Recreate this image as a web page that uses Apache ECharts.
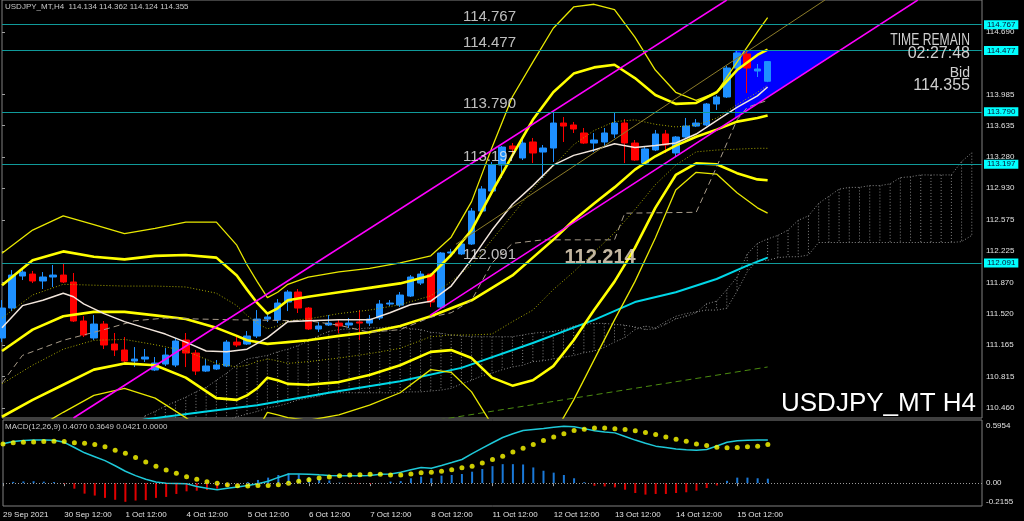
<!DOCTYPE html>
<html><head><meta charset="utf-8">
<script src="https://cdn.jsdelivr.net/npm/echarts@6/dist/echarts.min.js"></script>
<style>html,body{margin:0;padding:0;background:#000;}#c{width:1024px;height:521px;}</style>
</head><body><div id="c"></div>
<script>
// ---------------- DATA ----------------
const symbolName = 'USDJPY_MT,H4';
const tickLabels = ['29 Sep 2021','30 Sep 12:00','1 Oct 12:00','4 Oct 12:00','5 Oct 12:00','6 Oct 12:00','7 Oct 12:00','8 Oct 12:00','11 Oct 12:00','12 Oct 12:00','13 Oct 12:00','14 Oct 12:00','15 Oct 12:00'];
const barsPerTick = 6;
const totalSlots = 97;
// [open, high, low, close]
const candles = [
[111.246,111.673,111.200,111.583],[111.583,112.010,111.549,111.954],[111.943,112.033,111.898,111.988],[111.965,112.000,111.864,111.887],
[111.887,111.988,111.797,111.932],[111.932,112.067,111.819,111.954],[111.954,112.089,111.864,111.876],[111.876,111.977,111.426,111.437],
[111.437,111.493,111.257,111.279],[111.246,111.504,111.223,111.403],[111.403,111.437,111.122,111.167],[111.178,111.302,111.043,111.111],
[111.111,111.257,110.976,110.987],[110.987,111.144,110.919,111.009],[111.009,111.122,110.976,111.032],[110.886,111.032,110.874,110.964],
[110.953,111.133,110.931,111.054],[110.942,111.246,110.919,111.212],[111.223,111.302,110.919,111.077],[111.077,111.111,110.829,110.874],
[110.874,111.009,110.863,110.931],[110.897,110.998,110.886,110.942],[110.931,111.223,110.919,111.200],[111.200,111.257,111.144,111.167],
[111.178,111.324,111.167,111.268],[111.268,111.560,111.246,111.459],[111.459,111.538,111.426,111.482],[111.448,111.684,111.414,111.639],
[111.651,111.785,111.549,111.763],[111.763,111.797,111.527,111.583],[111.583,111.594,111.336,111.347],[111.347,111.426,111.313,111.381],
[111.392,111.504,111.381,111.414],[111.414,111.448,111.302,111.381],[111.392,111.471,111.358,111.414],[111.426,111.560,111.223,111.414],
[111.414,111.504,111.381,111.459],[111.471,111.673,111.448,111.628],[111.628,111.673,111.606,111.639],[111.616,111.763,111.594,111.729],
[111.718,111.954,111.707,111.932],[111.864,111.999,111.842,111.965],[111.965,111.977,111.594,111.651],[111.594,112.213,111.583,112.202],
[112.202,112.248,112.191,112.213],[112.191,112.348,112.179,112.303],[112.303,112.708,112.292,112.674],[112.674,112.955,112.663,112.922],
[112.899,113.226,112.854,113.192],[113.192,113.406,113.046,113.394],[113.406,113.439,113.327,113.372],[113.271,113.484,113.248,113.439],
[113.451,113.496,113.214,113.327],[113.338,113.417,113.046,113.383],[113.383,113.777,113.226,113.664],[113.664,113.732,113.451,113.630],
[113.642,113.676,113.552,113.597],[113.552,113.608,113.428,113.439],[113.439,113.552,113.338,113.473],[113.451,113.608,113.394,113.552],
[113.541,113.788,113.496,113.664],[113.664,113.709,113.214,113.439],[113.439,113.473,113.237,113.248],[113.214,113.394,113.203,113.372],
[113.361,113.586,113.349,113.541],[113.541,113.586,113.327,113.417],[113.327,113.518,113.282,113.507],[113.507,113.721,113.496,113.630],
[113.630,113.709,113.619,113.664],[113.642,113.889,113.630,113.878],[113.878,113.979,113.811,113.957],[113.957,114.306,113.946,114.283],
[114.283,114.474,114.272,114.452],[114.441,114.477,114.002,114.283],[114.249,114.328,114.182,114.272],[114.134,114.362,114.124,114.355]
];
const priceTicks = [114.690,113.985,113.635,113.280,112.930,112.575,112.225,111.870,111.520,111.165,110.815,110.460];
const priceMin = 110.346, priceMax = 115.048;
const levels = [114.767,114.477,113.790,113.197,112.091];
const bid = 114.355;
const noteText = '112.214';
const notePoint = [55.15, 112.03];
const levelLabelBar = 45.2;

// Bollinger bands (20): middle, +-1, +-2, +-3 sigma  [bar, price]
const bbBars = [0,3,6,9,12,15,18,21,23,24,25,26,27,28,30,33,36,39,42,44,46,48,50,52,54,56,58,60,62,64,66,68,70,72,74,75];
const bbMid = [111.10,111.34,111.49,111.54,111.54,111.50,111.46,111.36,111.27,111.22,111.20,111.18,111.19,111.20,111.22,111.27,111.31,111.38,111.49,111.58,111.67,111.81,111.95,112.15,112.35,112.57,112.76,112.94,113.14,113.29,113.41,113.51,113.59,113.68,113.72,113.75];
const bbUp1 = [111.47,111.73,111.85,111.84,111.83,111.83,111.82,111.75,111.61,111.50,111.41,111.35,111.38,111.44,111.46,111.52,111.56,111.62,111.72,111.88,112.07,112.35,112.63,112.92,113.18,113.42,113.58,113.68,113.70,113.65,113.62,113.64,113.72,113.87,114.01,114.09];
const bbUp2 = [111.84,112.12,112.22,112.16,112.13,112.17,112.18,112.15,111.95,111.79,111.64,111.52,111.58,111.67,111.71,111.76,111.81,111.86,111.95,112.18,112.46,112.89,113.30,113.70,114.01,114.22,114.29,114.32,114.17,113.98,113.88,113.89,114.01,114.26,114.43,114.49];
const bbUp3 = [112.20,112.46,112.62,112.52,112.42,112.48,112.55,112.55,112.29,112.07,111.88,111.70,111.76,111.85,111.93,111.99,112.03,112.09,112.17,112.38,112.78,113.39,113.96,114.35,114.73,114.97,115.00,114.94,114.63,114.26,114.01,113.92,114.01,114.35,114.69,114.85];
const bbDn1 = [110.73,110.94,111.12,111.22,111.23,111.17,111.10,110.96,110.92,110.94,110.98,111.01,110.99,110.96,110.98,111.02,111.07,111.13,111.26,111.28,111.28,111.29,111.43,111.56,111.79,111.99,112.21,112.43,112.69,112.97,113.19,113.34,113.36,113.37,113.38,113.38];
const bbDn2 = [110.36,110.55,110.72,110.89,110.96,110.94,110.80,110.57,110.55,110.60,110.68,110.80,110.77,110.73,110.72,110.75,110.83,110.94,111.09,111.11,111.02,110.80,110.71,110.77,110.93,111.22,111.56,111.88,112.26,112.71,113.08,113.21,113.20,113.10,113.03,113.02];
const bbDn3 = [109.99,110.21,110.41,110.60,110.68,110.57,110.35,110.10,110.04,110.10,110.21,110.41,110.38,110.35,110.32,110.38,110.49,110.63,110.89,110.86,110.64,110.27,110.04,110.01,110.15,110.55,111.00,111.45,111.88,112.37,112.91,113.11,113.09,112.88,112.71,112.65];

const maWhite = [[0,111.36],[2,111.61],[4,111.67],[6,111.75],[7,111.71],[8,111.63],[10,111.52],[12,111.43],[14,111.36],[16,111.29],[18,111.20],[20,111.10],[22,111.09],[24,111.12],[26,111.25],[28,111.43],[30,111.44],[33,111.45],[36,111.45],[38,111.53],[40,111.62],[42,111.66],[44,111.83],[46,112.13],[48,112.46],[50,112.75],[52,112.96],[54,113.19],[56,113.30],[58,113.36],[60,113.43],[62,113.39],[64,113.41],[66,113.44],[68,113.54],[70,113.69],[72,113.84],[74,113.97],[75,114.07]];
const kijun = [[0,110.74],[2,111.05],[6,111.22],[8,111.28],[10,111.34],[13,111.44],[16,111.47],[19,111.46],[23,111.45],[30,111.44],[33,111.39],[36,111.31],[39,111.34],[42,111.48],[44,111.53],[46,111.67],[48,112.09],[50,112.31],[53,112.35],[60,112.35],[61,112.65],[68,112.66],[70,113.17],[72,113.70],[73,113.84],[75,113.92]];
const maCyan = [[10,110.23],[14,110.33],[20,110.42],[25,110.49],[32,110.63],[39,110.76],[45,110.91],[52,111.19],[58,111.45],[62,111.65],[66,111.76],[70,111.91],[73,112.06],[75,112.15]];
const maGreen = [[36,110.20],[75,110.92]];

// Ichimoku cloud spans from bar 14 to bar 95
const cloudStart = 14;
const spanA = [110.37,110.42,110.48,110.53,110.58,110.64,110.69,110.77,110.85,110.94,111.01,111.03,111.05,111.09,111.12,111.16,111.21,111.27,111.32,111.34,111.35,111.35,111.36,111.36,111.37,111.37,111.35,111.34,111.31,111.30,111.28,111.27,111.26,111.26,111.26,111.26,111.26,111.28,111.30,111.31,111.32,111.34,111.38,111.40,111.41,111.41,111.40,111.39,111.37,111.34,111.35,111.40,111.46,111.49,111.53,111.63,111.66,111.79,111.93,112.19,112.31,112.36,112.40,112.46,112.57,112.62,112.76,112.84,112.92,112.94,112.94,112.96,112.96,112.98,113.05,113.06,113.08,113.08,113.08,113.08,113.23,113.33];
const spanB = [110.11,110.14,110.17,110.20,110.22,110.23,110.26,110.29,110.32,110.36,110.39,110.42,110.46,110.48,110.51,110.55,110.57,110.59,110.63,110.63,110.63,110.63,110.63,110.63,110.63,110.63,110.64,110.64,110.65,110.66,110.68,110.73,110.77,110.82,110.85,110.89,110.92,110.94,110.98,110.99,111.01,111.03,111.05,111.08,111.10,111.14,111.20,111.25,111.34,111.38,111.36,111.43,111.49,111.52,111.54,111.56,111.56,111.58,111.77,111.99,112.12,112.12,112.15,112.16,112.16,112.18,112.32,112.32,112.32,112.32,112.32,112.32,112.32,112.32,112.32,112.32,112.32,112.32,112.32,112.32,112.33,112.40];

// drawn objects [bar, price]
const channelUpper = [[7.0,110.346],[71.0,115.048]];
const channelLower = [[41.93,111.50],[89.71,115.048]];
const oliveLine = [[44.47,112.30],[80.62,115.048]];
const triangle = [[71.8,114.477],[82.1,114.477],[71.8,113.72]];

// MACD(12,26,9)
const macd = [0.371,0.392,0.401,0.407,0.406,0.404,0.385,0.336,0.286,0.249,0.212,0.164,0.112,0.071,0.037,0.011,-0.002,-0.004,-0.006,-0.031,-0.048,-0.062,-0.049,-0.036,-0.023,-0.006,0.018,0.054,0.086,0.086,0.085,0.078,0.072,0.070,0.070,0.070,0.073,0.083,0.087,0.102,0.126,0.147,0.141,0.167,0.194,0.223,0.278,0.331,0.381,0.430,0.466,0.496,0.506,0.515,0.526,0.536,0.531,0.514,0.495,0.482,0.474,0.440,0.406,0.376,0.349,0.336,0.322,0.316,0.311,0.318,0.351,0.385,0.400,0.405,0.406,0.4070];
const signal = [0.370,0.380,0.385,0.389,0.392,0.394,0.392,0.382,0.376,0.364,0.343,0.311,0.283,0.241,0.200,0.160,0.123,0.093,0.061,0.037,0.012,0.000,-0.016,-0.025,-0.028,-0.022,-0.022,-0.016,0.000,0.019,0.033,0.049,0.058,0.070,0.077,0.080,0.083,0.083,0.077,0.077,0.086,0.098,0.102,0.111,0.126,0.144,0.160,0.191,0.222,0.253,0.293,0.330,0.364,0.401,0.435,0.466,0.496,0.509,0.519,0.519,0.512,0.506,0.494,0.478,0.459,0.435,0.413,0.394,0.370,0.355,0.339,0.333,0.336,0.343,0.348,0.3649];
const hist = [0.002,0.012,0.016,0.018,0.014,0.010,-0.007,-0.052,-0.099,-0.117,-0.139,-0.157,-0.176,-0.164,-0.160,-0.139,-0.130,-0.102,-0.077,-0.071,-0.065,-0.052,-0.031,-0.011,0.010,0.030,0.052,0.077,0.093,0.083,0.056,0.040,0.025,0.005,-0.004,-0.008,-0.008,0.002,0.015,0.019,0.046,0.062,0.046,0.071,0.077,0.086,0.108,0.133,0.160,0.179,0.179,0.176,0.148,0.117,0.099,0.077,0.046,0.009,-0.025,-0.031,-0.040,-0.062,-0.093,-0.108,-0.102,-0.102,-0.093,-0.086,-0.071,-0.046,-0.022,0.022,0.052,0.052,0.046,0.0421];
const macdExtra = 0.0;
const macdTicks = [0.5954, 0, -0.2155];
const macdTickText = ['0.5954','0.00','-0.2155'];
const macdMin = -0.2155, macdMax = 0.5954;

// ---------------- CHART ----------------
const FONT = '"Liberation Sans", Arial, sans-serif';
const cats = Array.from({length: totalSlots}, (_, i) => String(i));
const pair = (bars, vals) => bars.map((b, k) => [b, vals[k]]);
const last = candles[candles.length - 1];

const lineS = (data, color, width, type, z) => ({
  type: 'line', xAxisIndex: 1, yAxisIndex: 0, data, symbol: 'none', silent: true,
  z: z || 3, lineStyle: { color, width, type: type || 'solid' }, clip: true
});

const option = {
  backgroundColor: '#000000',
  animation: false,
  grid: [
    { left: 2, right: 42, top: 0, height: 418, show: true, borderColor: '#808080', borderWidth: 1, backgroundColor: 'transparent' },
    { left: 2, right: 42, top: 420, height: 86, show: true, borderColor: '#808080', borderWidth: 1, backgroundColor: 'transparent' }
  ],
  xAxis: [
    { type: 'category', gridIndex: 0, data: cats, boundaryGap: false, show: false },
    { type: 'value', gridIndex: 0, min: 0, max: totalSlots - 1, show: false },
    { type: 'category', gridIndex: 1, data: cats, boundaryGap: false,
      axisLine: { show: false },
      axisTick: { show: true, length: 3, lineStyle: { color: '#a0a0a0' },
        interval: (i) => i % barsPerTick === 0 && i / barsPerTick < tickLabels.length },
      axisLabel: { show: true, color: '#e0e0e0', fontSize: 8, fontFamily: FONT, align: 'left', margin: 5,
        interval: (i) => i % barsPerTick === 0 && i / barsPerTick < tickLabels.length,
        formatter: (v, i) => tickLabels[i / barsPerTick] || '' },
      splitLine: { show: false } }
  ],
  yAxis: [
    { type: 'value', gridIndex: 0, position: 'right', min: priceMin, max: priceMax, scale: true,
      splitLine: { show: false }, axisLine: { show: false },
      axisTick: { show: true, length: 3, lineStyle: { color: '#a0a0a0' }, customValues: priceTicks },
      axisLabel: { show: true, customValues: priceTicks, color: '#e0e0e0', fontSize: 8, fontFamily: FONT, margin: 4,
        formatter: (v) => v.toFixed(3) } },
    { type: 'value', gridIndex: 1, position: 'right', min: macdMin, max: macdMax,
      splitLine: { show: false }, axisLine: { show: false },
      axisTick: { show: false },
      axisLabel: { show: true, customValues: macdTicks, color: '#e0e0e0', fontSize: 8, fontFamily: FONT, margin: 4,
        formatter: (v) => { const k = macdTicks.indexOf(v); return k === 0 ? '{t|' + macdTickText[k] + '}' : k === 2 ? '{b|' + macdTickText[k] + '}' : '{m|' + macdTickText[1] + '}'; },
        rich: { t: { padding: [12, 0, 0, 0], fontSize: 8, color: '#e0e0e0' }, b: { padding: [0, 0, 8, 0], fontSize: 8, color: '#e0e0e0' }, m: { fontSize: 8, color: '#e0e0e0' } } } }
  ],
  graphic: [
    { type: 'text', x: 5, y: 3, z: 50, style: { text: symbolName + '  ' + last.map(v => v.toFixed(3)).join(' '), fill: '#c8c8c8', font: '8px ' + FONT } },
    { type: 'text', x: 5, y: 423, z: 50, style: { text: 'MACD(12,26,9) ' + [macd[macd.length-1], signal[signal.length-1], hist[hist.length-1], macdExtra].map(v => v.toFixed(4)).join(' '), fill: '#c8c8c8', font: '8px ' + FONT } },
    { type: 'text', x: 970, y: 49, scaleX: 0.76, z: 50, style: { text: 'TIME REMAIN', fill: '#d0d0d0', font: '16px ' + FONT, align: 'right', verticalAlign: 'bottom' } },
    { type: 'text', x: 970, y: 62, z: 50, style: { text: '02:27:48', fill: '#d0d0d0', font: '16px ' + FONT, align: 'right', verticalAlign: 'bottom' } },
    { type: 'text', x: 970, y: 80, z: 50, style: { text: 'Bid', fill: '#d0d0d0', font: '14px ' + FONT, align: 'right', verticalAlign: 'bottom' } },
    { type: 'text', x: 970, y: 94, z: 50, style: { text: bid.toFixed(3), fill: '#d0d0d0', font: '16px ' + FONT, align: 'right', verticalAlign: 'bottom' } },
    { type: 'text', x: 781, y: 417, z: 50, style: { text: 'USDJPY_MT H4', fill: '#ffffff', font: '26px ' + FONT, align: 'left', verticalAlign: 'bottom' } }
  ],
  series: [
    // cloud hatch
    { type: 'custom', xAxisIndex: 1, yAxisIndex: 0, silent: true, z: 1, clip: true,
      data: spanA.map((a, k) => [cloudStart + k, a, spanB[k]]),
      encode: { x: 0, y: [1, 2] },
      renderItem: (params, api) => {
        const p1 = api.coord([api.value(0), api.value(1)]);
        const p2 = api.coord([api.value(0), api.value(2)]);
        return { type: 'line', shape: { x1: p1[0], y1: p1[1], x2: p2[0], y2: p2[1] }, style: { stroke: '#808080', lineWidth: 1, lineDash: [1, 2] } };
      } },
    lineS(spanA.map((a, k) => [cloudStart + k, a]), '#8a8a8a', 1, [1, 2], 1),
    lineS(spanB.map((b, k) => [cloudStart + k, b]), '#8a8a8a', 1, [1, 2], 1),
    // triangle object
    { type: 'custom', xAxisIndex: 1, yAxisIndex: 0, silent: true, z: 1, clip: true,
      data: [triangle.flat()],
      renderItem: (params, api) => ({ type: 'polygon',
        shape: { points: [0, 1, 2].map(k => api.coord([api.value(2*k), api.value(2*k+1)])) },
        style: { fill: '#0000ff' } }) },
    lineS(maCyan, '#00d8e8', 2),
    lineS(maGreen, '#4c8c10', 1, [6, 4]),
    lineS(pair(bbBars, bbDn3), '#e8e800', 1.3),
    lineS(pair(bbBars, bbUp3), '#e8e800', 1.3),
    lineS(pair(bbBars, bbDn1), '#a8a800', 1, [1, 2]),
    lineS(pair(bbBars, bbUp1), '#a8a800', 1, [1, 2]),
    lineS(pair(bbBars, bbDn2), '#ffff00', 2.6),
    lineS(pair(bbBars, bbUp2), '#ffff00', 2.6),
    lineS(pair(bbBars, bbMid), '#ffff00', 2.6),
    lineS(kijun, '#a89c8a', 1, [6, 4]),
    lineS(maWhite, '#f2e6dc', 1.5),
    // candles
    { type: 'candlestick', xAxisIndex: 0, yAxisIndex: 0, z: 2, silent: true, barWidth: 7,
      data: candles.map(c => [c[0], c[3], c[2], c[1]]),
      itemStyle: { color: '#1e90ff', color0: '#ff0000', borderColor: '#1e90ff', borderColor0: '#ff0000', borderWidth: 1 } },
    lineS(channelUpper, '#ff00ff', 1.5, 'solid', 4),
    lineS(channelLower, '#ff00ff', 1.5, 'solid', 4),
    lineS(oliveLine, '#8c7c28', 1, 'solid', 4),
    // horizontal levels + right-axis boxes
    { type: 'line', xAxisIndex: 1, yAxisIndex: 0, data: [], silent: true, z: 5,
      markLine: { symbol: ['none', 'none'], silent: true, animation: false,
        lineStyle: { color: '#109a9a', width: 1, type: 'solid' },
        label: { show: true, position: 'end', distance: 2, color: '#0a1030', backgroundColor: '#00ffff', fontSize: 8, fontFamily: FONT, padding: [1, 3, 0, 3] },
        data: levels.map(v => ({ yAxis: v, label: { formatter: v.toFixed(3) } }))
          .concat([{ yAxis: bid, lineStyle: { opacity: 0 }, label: { formatter: bid.toFixed(3), backgroundColor: '#ffffff', color: '#000000' } }]) } },
    // level texts
    { type: 'scatter', xAxisIndex: 1, yAxisIndex: 0, silent: true, z: 6, symbolSize: 1, itemStyle: { color: 'rgba(0,0,0,0)' },
      data: levels.map(v => [levelLabelBar, v]),
      label: { show: true, position: [0, 0], align: 'left', verticalAlign: 'bottom', color: '#ececec', fontSize: 15, fontFamily: FONT,
        formatter: (p) => p.value[1].toFixed(3) } },
    { type: 'scatter', xAxisIndex: 1, yAxisIndex: 0, silent: true, z: 6, symbolSize: 1, itemStyle: { color: 'rgba(0,0,0,0)' },
      data: [notePoint],
      label: { show: true, position: [0, 0], align: 'left', verticalAlign: 'bottom', color: '#f4e4c8', fontSize: 20, fontWeight: 'bold', fontFamily: FONT,
        formatter: () => noteText } },
    // MACD
    { type: 'bar', xAxisIndex: 2, yAxisIndex: 1, silent: true, barWidth: 2,
      data: hist.map(v => ({ value: v, itemStyle: { color: v >= 0 ? '#1a78d6' : '#e00000' } })),
      markLine: { symbol: ['none', 'none'], silent: true, label: { show: false },
        lineStyle: { color: '#9a9a9a', width: 1, type: [1, 2] }, data: [{ yAxis: 0 }] } },
    { type: 'line', xAxisIndex: 2, yAxisIndex: 1, data: macd, symbol: 'none', silent: true, z: 3,
      lineStyle: { color: '#1ec8d8', width: 1.5 } },
    { type: 'scatter', xAxisIndex: 2, yAxisIndex: 1, data: signal, symbolSize: 5, silent: true, z: 4,
      itemStyle: { color: '#ffff00' } }
  ]
};

const chart = echarts.init(document.getElementById('c'), null, { renderer: 'canvas', width: 1024, height: 521 });
chart.setOption(option);
</script>
</body></html>
